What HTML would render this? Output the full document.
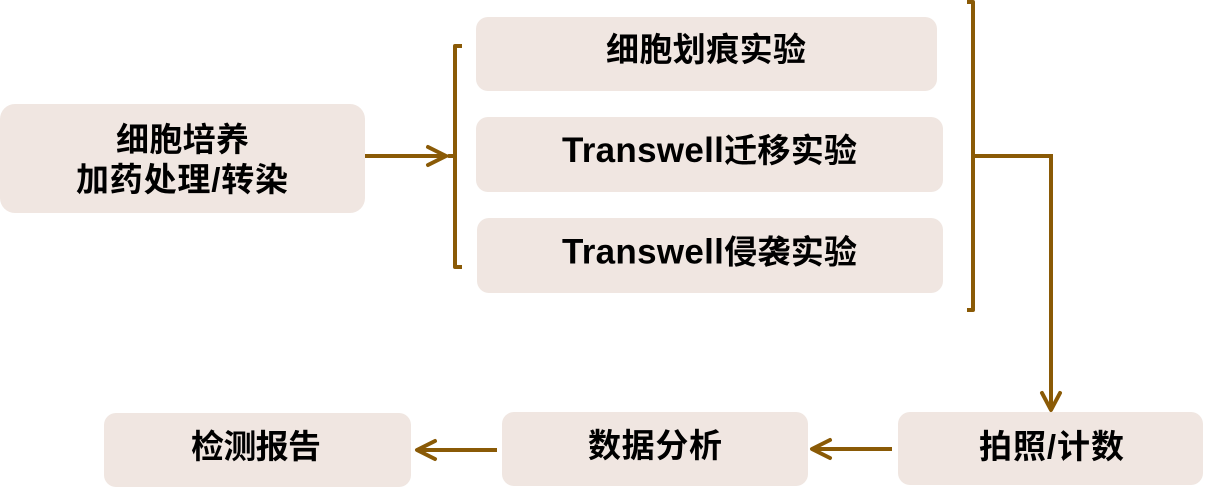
<!DOCTYPE html>
<html>
<head>
<meta charset="utf-8">
<style>
  html, body { margin: 0; padding: 0; background: #ffffff; }
  body { width: 1205px; height: 488px; overflow: hidden; }
  svg { display: block; }
  text { font-family: "Liberation Sans", "Noto Sans CJK SC", sans-serif; font-weight: bold; fill: #000; }
</style>
</head>
<body>
<svg width="1205" height="488" viewBox="0 0 1205 488" xmlns="http://www.w3.org/2000/svg">
  <g fill="#f0e6e1">
    <rect x="0" y="104" width="365" height="109" rx="15" ry="15"/>
    <rect x="476" y="17" width="461" height="74" rx="12" ry="12"/>
    <rect x="476" y="117" width="467" height="75" rx="12" ry="12"/>
    <rect x="477" y="218" width="466" height="75" rx="12" ry="12"/>
    <rect x="898" y="412" width="305" height="73" rx="12" ry="12"/>
    <rect x="502" y="412" width="306" height="74" rx="12" ry="12"/>
    <rect x="104" y="413" width="307" height="74" rx="12" ry="12"/>
  </g>

  <g stroke="#8a5a06" stroke-width="4" fill="none" stroke-linecap="round" stroke-linejoin="round">
    <!-- left arrow into bracket -->
    <line x1="365" y1="156" x2="444" y2="156" stroke-linecap="butt"/>
    <polyline points="428,147 446,156 428,165"/>
    <!-- left bracket -->
    <polyline points="462,46 455,46 455,267 462,267" stroke-linecap="butt"/>
    <line x1="449" y1="156" x2="455" y2="156"/>
    <!-- right bracket -->
    <polyline points="967,2 973,2 973,310 967,310" stroke-linecap="butt"/>
    <polyline points="973,156 1051,156 1051,408" stroke-linecap="butt" stroke-linejoin="miter"/>
    <polyline points="1042,393 1051,410 1060,393"/>
    <!-- bottom arrows -->
    <line x1="892" y1="449" x2="814" y2="449" stroke-linecap="butt"/>
    <polyline points="830,440 812,449 830,458"/>
    <line x1="497" y1="450" x2="419" y2="450" stroke-linecap="butt"/>
    <polyline points="435,441 417,450 435,459"/>
  </g>

  <g text-anchor="middle" font-size="33">
    <text x="182.5" y="151" textLength="133" lengthAdjust="spacing">细胞培养</text>
    <text x="182" y="191" textLength="212" lengthAdjust="spacing">加药处理/转染</text>

    <text x="706" y="61" textLength="200" lengthAdjust="spacing">细胞划痕实验</text>
    <text x="709.5" y="162" textLength="295" lengthAdjust="spacing"><tspan font-size="35">Transwell</tspan>迁移实验</text>
    <text x="709.5" y="263.5" textLength="295" lengthAdjust="spacing"><tspan font-size="35">Transwell</tspan>侵袭实验</text>

    <text x="1051.5" y="458" textLength="145" lengthAdjust="spacing">拍照/计数</text>
    <text x="655" y="457" textLength="134" lengthAdjust="spacing">数据分析</text>
    <text x="256" y="458" textLength="130" lengthAdjust="spacing">检测报告</text>
  </g>
</svg>
</body>
</html>
